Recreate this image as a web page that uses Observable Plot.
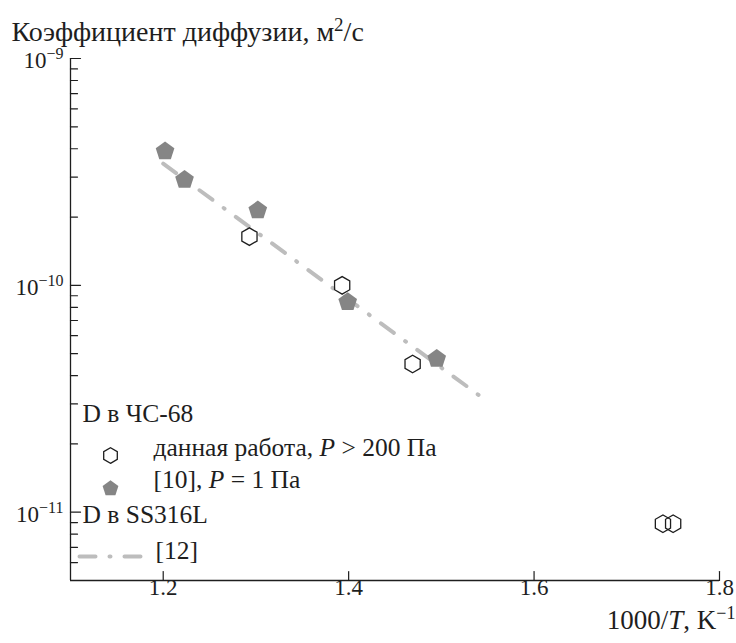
<!DOCTYPE html>
<html><head><meta charset="utf-8">
<script src="https://cdn.jsdelivr.net/npm/d3@7"></script>
<script src="https://cdn.jsdelivr.net/npm/@observablehq/plot@0.6"></script>
<style>html,body{margin:0;padding:0;background:#fff} svg{display:block} svg text{font-family:"Liberation Serif",serif}</style>
</head><body><div id="chart"></div>
<script>
// ---- data ----
const thisWorkX = [1.293, 1.393, 1.469, 1.739, 1.750];
const thisWorkD = [1.64e-10, 1.0e-10, 4.5e-11, 8.9e-12, 8.9e-12];
const ref10X = [1.202, 1.223, 1.302, 1.399, 1.495];
const ref10D = [3.9e-10, 2.92e-10, 2.14e-10, 8.45e-11, 4.75e-11];
const ref12X = [1.2, 1.545];
const ref12D = [3.44e-10, 3.18e-11];
const xDomain = [1.1, 1.8];
const yDomain = [5e-12, 1e-9];
const xTicks = [1.2, 1.4, 1.6, 1.8];
const xTickLabels = ["1.2", "1.4", "1.6", "1.8"];
const yMajorTicks = [1e-11, 1e-10, 1e-9];
const yTickLabels = ["10^{−11}", "10^{−10}", "10^{−9}"];
const yMinorTicks = [6e-12, 7e-12, 8e-12, 9e-12,
  2e-11, 3e-11, 4e-11, 5e-11, 6e-11, 7e-11, 8e-11, 9e-11,
  2e-10, 3e-10, 4e-10, 5e-10, 6e-10, 7e-10, 8e-10, 9e-10];
const yTitle = "Коэффициент диффузии, м^{2}/с";
const xTitle = "1000/*{T}, K^{−1}";
const legendGroup1 = "D в ЧС-68";
const legendThisWork = "данная работа, *{P} > 200 Па";
const legendRef10 = "[10], *{P} = 1 Па";
const legendGroup2 = "D в SS316L";
const legendRef12 = "[12]";

// ---- styling ----
const font = "Liberation Serif";
const ink = "#1e1e1e";
const pentFill = "#858585";
const lineGray = "#bdbdbd";
const dash = "16,14,1,14";
const T = (fs) => ({fontFamily: font, fontSize: fs, fill: ink});
const LF = 25.5;

const pentagon = {
  draw(ctx, size) {
    const R = Math.sqrt(size / Math.PI);
    for (let k = 0; k < 5; k++) {
      const a = -Math.PI / 2 + k * 2 * Math.PI / 5;
      const px = R * Math.cos(a), py = R * Math.sin(a);
      if (k) ctx.lineTo(px, py); else ctx.moveTo(px, py);
    }
    ctx.closePath();
  }
};
const stick = { draw(ctx, l) { ctx.moveTo(0, 0); ctx.lineTo(0, -l); } };

const thisWork = thisWorkX.map((x, i) => ({x, d: thisWorkD[i]}));
const ref10 = ref10X.map((x, i) => ({x, d: ref10D[i]}));
const ref12 = ref12X.map((x, i) => ({x, d: ref12D[i]}));

const chart = Plot.plot({
  width: 736, height: 643,
  marginLeft: 70, marginRight: 17, marginTop: 58, marginBottom: 63,
  style: {background: "#fff", overflow: "visible"},
  x: {domain: xDomain, axis: null},
  y: {type: "log", domain: yDomain, axis: null},
  marks: [
    // axis lines
    Plot.ruleX([xDomain[0]], {stroke: ink, strokeWidth: 1.3}),
    Plot.ruleY([yDomain[0]], {stroke: ink, strokeWidth: 1.3}),
    // inward ticks
    Plot.vector(yMajorTicks, {y: d => d, frameAnchor: "left", rotate: 90, length: 10, anchor: "start", shape: stick, stroke: ink, strokeWidth: 1.2}),
    Plot.vector(yMinorTicks, {y: d => d, frameAnchor: "left", rotate: 90, length: 7, anchor: "start", shape: stick, stroke: ink, strokeWidth: 1.2}),
    Plot.vector(xTicks, {x: d => d, frameAnchor: "bottom", rotate: 0, length: 9, anchor: "start", shape: stick, stroke: ink, strokeWidth: 1.2}),
    // tick labels
    Plot.text(xTicks, {x: d => d, text: (d, i) => xTickLabels[i], frameAnchor: "bottom", dy: 14, ...T(23)}),
    Plot.text(yMajorTicks, {y: d => d, text: (d, i) => yTickLabels[i], frameAnchor: "left", dx: -7, dy: 2, textAnchor: "end", ...T(23)}),
    // titles
    Plot.text([yTitle], {text: d => d, frameAnchor: "top-left", dx: -59, dy: -37, textAnchor: "start", ...T(28)}),
    Plot.text([xTitle], {text: d => d, frameAnchor: "bottom-right", dx: 16, dy: 48, textAnchor: "end", ...T(27)}),
    // data
    Plot.line(ref12, {x: "x", y: "d", stroke: lineGray, strokeWidth: 4, strokeDasharray: dash, strokeLinecap: "round"}),
    Plot.dot(ref10, {x: "x", y: "d", symbol: pentagon, r: 9.8, fill: pentFill, stroke: "none"}),
    Plot.dot(thisWork, {x: "x", y: "d", symbol: "hexagon", r: 7.6, fill: "none", stroke: ink, strokeWidth: 1.3}),
    // legend
    Plot.text([legendGroup1], {text: d => d, frameAnchor: "bottom-left", dx: 12, dy: -159, textAnchor: "start", ...T(LF)}),
    Plot.dot([0], {frameAnchor: "bottom-left", dx: 40, dy: -125, symbol: "hexagon", r: 6.8, fill: "none", stroke: ink, strokeWidth: 1.3}),
    Plot.text([legendThisWork], {text: d => d, frameAnchor: "bottom-left", dx: 83, dy: -125, textAnchor: "start", ...T(LF)}),
    Plot.dot([0], {frameAnchor: "bottom-left", dx: 40, dy: -92, symbol: pentagon, r: 8.3, fill: pentFill, stroke: "none"}),
    Plot.text([legendRef10], {text: d => d, frameAnchor: "bottom-left", dx: 83, dy: -93, textAnchor: "start", ...T(LF)}),
    Plot.text([legendGroup2], {text: d => d, frameAnchor: "bottom-left", dx: 12, dy: -58, textAnchor: "start", ...T(LF)}),
    Plot.vector([0], {frameAnchor: "bottom-left", dx: 9, dy: -24, rotate: 90, length: 63, anchor: "start", shape: stick, stroke: lineGray, strokeWidth: 4, strokeDasharray: dash, strokeLinecap: "round"}),
    Plot.text([legendRef12], {text: d => d, frameAnchor: "bottom-left", dx: 85, dy: -22, textAnchor: "start", ...T(LF)})
  ]
});
document.getElementById("chart").appendChild(chart);

// rich text: ^{...} superscript, *{...} italic
function enrich(svg) {
  const NS = "http://www.w3.org/2000/svg";
  svg.querySelectorAll("text").forEach(t => {
    const s = t.textContent;
    if (!/[\^*]\{/.test(s)) return;
    const fs = parseFloat(getComputedStyle(t).fontSize) || 22;
    const up = Math.round(fs * 0.37 * 10) / 10;
    const parts = s.split(/(\^\{[^}]*\}|\*\{[^}]*\})/).filter(p => p);
    while (t.firstChild) t.removeChild(t.firstChild);
    let shift = 0;
    for (const p of parts) {
      const ts = document.createElementNS(NS, "tspan");
      if (p.startsWith("^{")) {
        ts.textContent = p.slice(2, -1);
        ts.setAttribute("font-size", String(Math.round(fs * 0.68)));
        ts.setAttribute("dy", String(-up));
        shift = up;
      } else {
        ts.textContent = p.startsWith("*{") ? p.slice(2, -1) : p;
        if (p.startsWith("*{")) ts.setAttribute("font-style", "italic");
        if (shift) { ts.setAttribute("dy", String(shift)); shift = 0; }
      }
      t.appendChild(ts);
    }
  });
}
enrich(chart);
</script>
</body></html>
